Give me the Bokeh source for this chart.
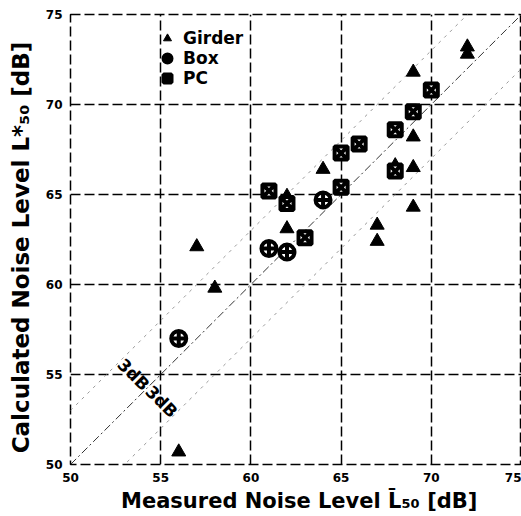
import math
from bokeh.plotting import figure
from bokeh.models import Legend, LegendItem
from bokeh.core.properties import value
from bokeh.embed import file_html
from bokeh.resources import INLINE

# ---- data (measured L50, calculated L*50) ----
girder_x = [72, 72, 69, 69, 64, 68, 69, 62, 62, 67, 67, 69, 57, 58, 56]
girder_y = [73.2, 72.8, 71.8, 68.2, 66.4, 66.6, 66.5, 64.9, 63.1, 63.3, 62.4, 64.3, 62.1, 59.8, 50.7]

box_x = [56, 61, 62, 64]
box_y = [57.0, 62.0, 61.8, 64.7]

pc_x = [61, 62, 63, 65, 65, 66, 68, 68, 69, 70]
pc_y = [65.2, 64.5, 62.6, 65.4, 67.3, 67.8, 66.3, 68.6, 69.6, 70.8]

line_offsets = [0, 3, -3]
ticks = [50, 55, 60, 65, 70, 75]
band_label = "3dB"
band_label_x = [53.5, 55.05]
band_label_y = [55.0, 53.5]

FONT = "DejaVu Sans"

p = figure(width=521, height=516, x_range=(50, 75), y_range=(50, 75),
           output_backend="svg", toolbar_location=None,
           min_border_left=70, min_border_right=0, min_border_top=14, min_border_bottom=52)
p.background_fill_color = "white"
p.border_fill_color = "white"
p.outline_line_color = "black"
p.outline_line_dash = "10 4"
p.outline_line_width = 1.5

for g in (p.xgrid[0], p.ygrid[0]):
    g.grid_line_color = "black"
    g.grid_line_dash = "10 4"
    g.grid_line_width = 1.5
    g.ticker = ticks

for ax in (p.xaxis[0], p.yaxis[0]):
    ax.ticker = ticks
    ax.axis_line_color = None
    ax.major_tick_line_color = None
    ax.minor_tick_line_color = None
    ax.major_label_text_font = FONT
    ax.major_label_text_font_style = "bold"
    ax.major_label_text_font_size = "12px"
    ax.major_label_text_color = "black"
    ax.major_label_standoff = 2
    ax.axis_label_text_font = FONT
    ax.axis_label_text_font_style = "bold"
    ax.axis_label_text_color = "black"

p.xaxis[0].axis_label = "\u2003Measured Noise Level  L\u0304\u2085\u2080  [dB]"
p.xaxis[0].axis_label_text_font_size = "21px"
p.xaxis[0].axis_label_standoff = 4
p.yaxis[0].axis_label = "Calculated Noise Level  L*\u2085\u2080  [dB]"
p.yaxis[0].axis_label_text_font_size = "23px"
p.yaxis[0].axis_label_standoff = 9

# reference lines
for off in line_offsets:
    if off == 0:
        p.line([50, 75], [50 + off, 75 + off], line_color="#333333", line_width=1,
               line_dash="8 3 2 3")
    else:
        p.line([50, 75], [50 + off, 75 + off], line_color="#999999", line_width=1,
               line_dash="3 5")

# band labels
p.text(x=band_label_x, y=band_label_y, text=[band_label] * len(band_label_x),
       angle=-math.pi / 4, text_font=value(FONT), text_font_style="bold",
       text_font_size="17px", text_align="center", text_baseline="middle",
       text_color="black")

r_g = p.scatter(girder_x, girder_y, marker="triangle", size=14,
                fill_color="black", line_color="black")
r_b = p.scatter(box_x, box_y, marker="circle_cross", size=15,
                fill_color="white", line_color="black", line_width=4)
r_p = p.scatter(pc_x, pc_y, marker="square_x", size=13,
                fill_color="white", line_color="black", line_width=4)

legend = Legend(items=[LegendItem(label="Girder", renderers=[r_g]),
                       LegendItem(label="Box", renderers=[r_b]),
                       LegendItem(label="PC", renderers=[r_p])],
                location=(87, 376), padding=0, margin=0, spacing=0,
                glyph_width=20, glyph_height=20, label_height=20,
                label_standoff=6,
                label_text_font=FONT, label_text_font_style="bold",
                label_text_font_size="17px", label_text_color="black",
                background_fill_alpha=0, border_line_color=None)
p.add_layout(legend, "center")

open("out.html", "w").write(file_html(p, INLINE))
